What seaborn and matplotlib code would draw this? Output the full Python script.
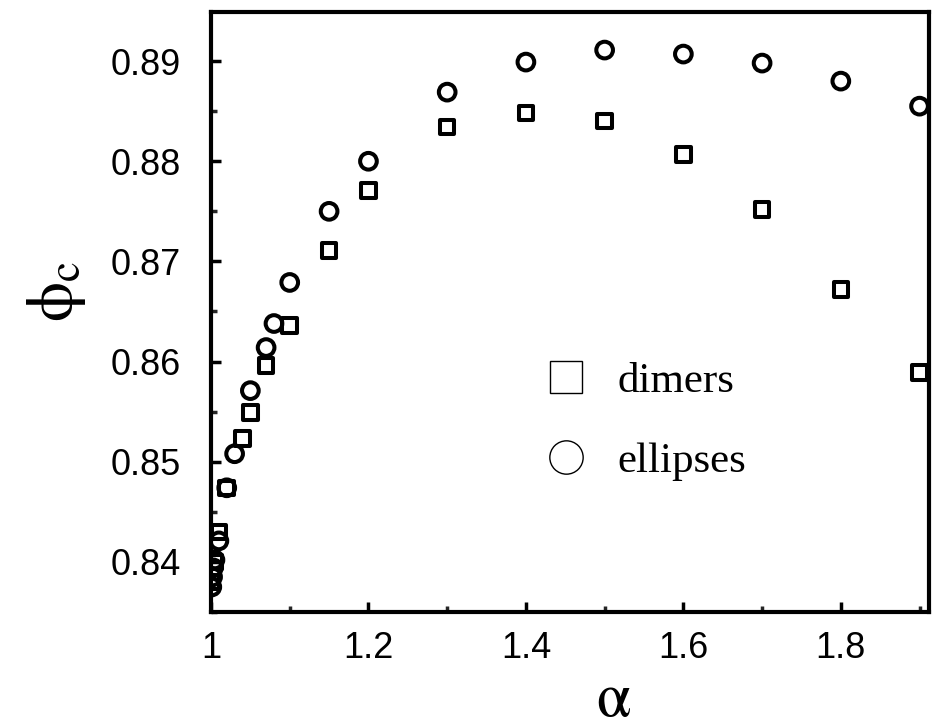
import matplotlib
matplotlib.use("Agg")
import matplotlib.pyplot as plt
from matplotlib.lines import Line2D
from matplotlib.ticker import MultipleLocator, FixedLocator
import seaborn as sns
import pandas as pd

# ---- data ----
ellipses_alpha = [1.001, 1.002, 1.003, 1.005, 1.01, 1.02, 1.03, 1.05, 1.07, 1.08,
                  1.10, 1.15, 1.20, 1.30, 1.40, 1.50, 1.60, 1.70, 1.80, 1.90]
ellipses_phi = [0.8375, 0.8385, 0.8394, 0.8402, 0.8421, 0.8474, 0.8508, 0.8571, 0.8614, 0.8638,
                0.8679, 0.8750, 0.8800, 0.8869, 0.8899, 0.8911, 0.8907, 0.8898, 0.8880, 0.8855]

dimers_alpha = [1.001, 1.005, 1.01, 1.02, 1.04, 1.05, 1.07, 1.10, 1.15, 1.20,
                1.30, 1.40, 1.50, 1.60, 1.70, 1.80, 1.90]
dimers_phi = [0.8380, 0.8400, 0.8430, 0.8474, 0.8523, 0.8549, 0.8596, 0.8636, 0.8711, 0.8771,
              0.8834, 0.8848, 0.8840, 0.8807, 0.8752, 0.8672, 0.8589]

x_ticks = [1.0, 1.2, 1.4, 1.6, 1.8]
x_tick_labels = ["1", "1.2", "1.4", "1.6", "1.8"]
y_ticks = [0.84, 0.85, 0.86, 0.87, 0.88, 0.89]
y_tick_labels = ["0.84", "0.85", "0.86", "0.87", "0.88", "0.89"]
legend_labels = ["dimers", "ellipses"]

sns.set_theme(style="white")
plt.rcParams["font.family"] = ["Liberation Sans", "DejaVu Sans"]
plt.rcParams["mathtext.fontset"] = "stix"
plt.rcParams["text.color"] = "black"

fig = plt.figure(figsize=(9.32, 7.27), dpi=100)
ax = fig.add_axes([211 / 932, 1 - 612 / 727, 718 / 932, 600 / 727])

df_e = pd.DataFrame({"alpha": ellipses_alpha, "phi": ellipses_phi})
df_d = pd.DataFrame({"alpha": dimers_alpha, "phi": dimers_phi})

sns.scatterplot(data=df_d, x="alpha", y="phi", ax=ax, marker="s", s=10.5 ** 2,
                facecolor="white", edgecolor="black", linewidth=2.9, legend=False,
                zorder=3, clip_on=True)
sns.scatterplot(data=df_e, x="alpha", y="phi", ax=ax, marker="o", s=12 ** 2,
                facecolor="white", edgecolor="black", linewidth=2.9, legend=False,
                zorder=3, clip_on=True)
for c in ax.collections:
    c.set_facecolor("none")

ax.set_xlim(1.0, 1.912)
ax.set_ylim(0.835, 0.8949)

ax.xaxis.set_major_locator(FixedLocator(x_ticks))
ax.set_xticklabels(x_tick_labels)
ax.xaxis.set_minor_locator(MultipleLocator(0.1))
ax.yaxis.set_major_locator(FixedLocator(y_ticks))
ax.set_yticklabels(y_tick_labels)
ax.yaxis.set_minor_locator(MultipleLocator(0.005))

for sp in ax.spines.values():
    sp.set_linewidth(3)
    sp.set_color("black")

ax.tick_params(axis="both", which="major", direction="in", length=7, width=2.5,
               labelsize=26, colors="black", pad=14, bottom=True, left=True,
               top=False, right=False)
ax.tick_params(axis="both", which="minor", direction="in", length=4, width=2.5,
               bottom=True, left=True, top=False, right=False)
ax.tick_params(axis="y", which="major", pad=22)

ax.set_xlabel(r"$\mathrm{\alpha}$", fontsize=45, color="black")
ax.xaxis.set_label_coords(0.561, -0.096)
ax.set_ylabel(r"$\mathrm{\phi}_\mathrm{c}$", fontsize=46, color="black")
ax.yaxis.set_label_coords(-0.172, 0.535)

handles = [
    Line2D([], [], linestyle="none", marker="s", markersize=23, markerfacecolor="white",
           markeredgecolor="black", markeredgewidth=1.0),
    Line2D([], [], linestyle="none", marker="o", markersize=24, markerfacecolor="white",
           markeredgecolor="black", markeredgewidth=1.0),
]
leg = ax.legend(handles, legend_labels, loc="upper left", bbox_to_anchor=(0.4638, 0.417),
                frameon=False, borderpad=0, borderaxespad=0, handlelength=1.0,
                handletextpad=0.7, labelspacing=0.95,
                prop={"family": "Liberation Serif", "size": 31})
for t in leg.get_texts():
    t.set_color("black")

fig.savefig("out.png", dpi=100, facecolor="white")
